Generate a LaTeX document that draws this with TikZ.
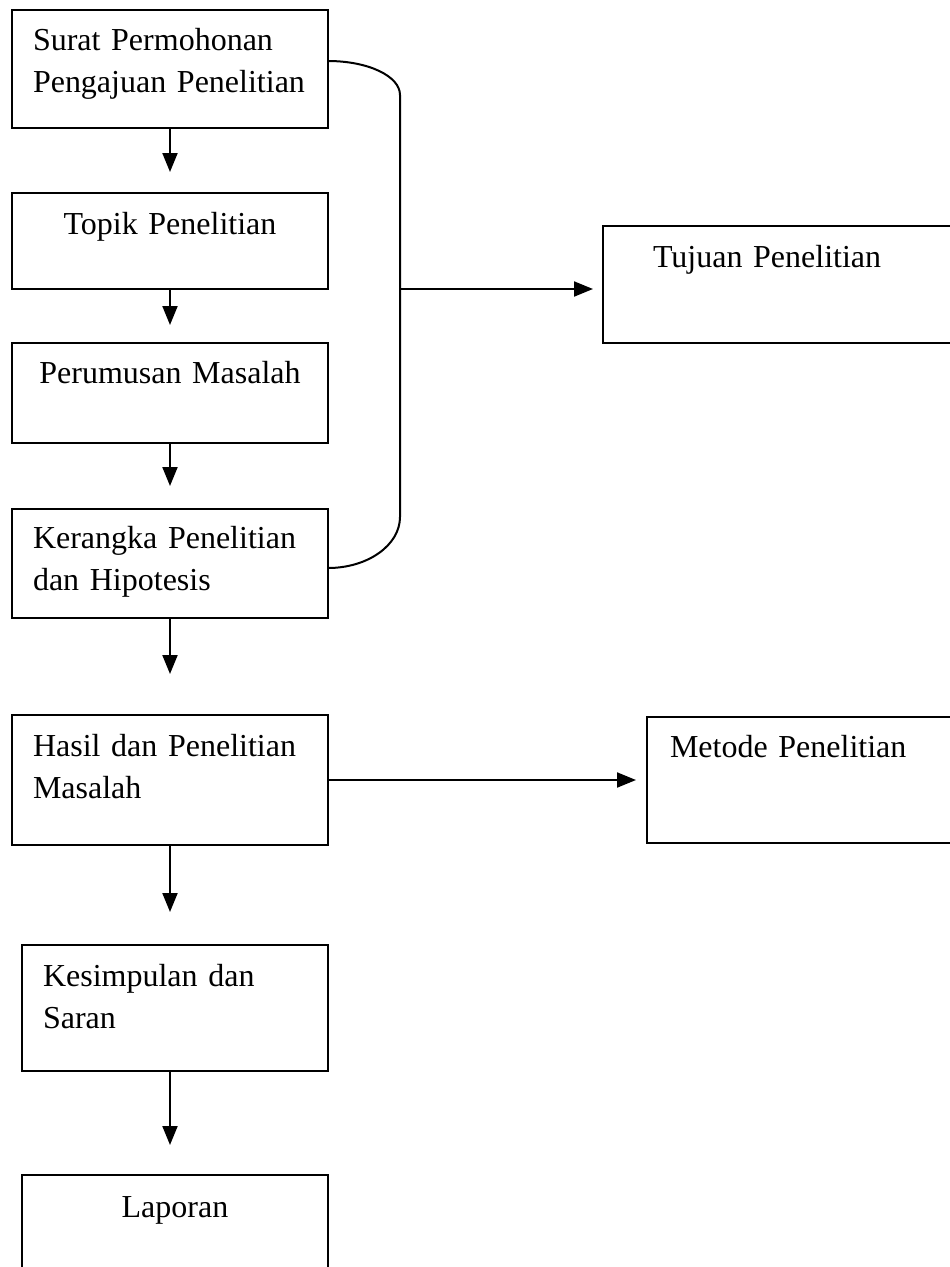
\documentclass[tikz,border=0pt]{standalone}
\usepackage{fontspec}
\setmainfont{Liberation Serif}
\usepackage{tikz}
\usetikzlibrary{positioning, arrows.meta}

\tikzset{
	kotak/.style = {draw, rectangle, line width=2pt, inner ysep=0pt, outer sep=0pt, font=\fontsize{32}{42}\selectfont},
	panah/.style = {-{Triangle[length=19pt, width=15pt]}, line width=2pt},
}

\begin{document}
\begin{tikzpicture}[x=1pt, y=-1pt]
	\useasboundingbox (0,0) rectangle (950,1267);

	\node[kotak, anchor=north west, align=left, text width=274pt, inner xsep=21pt, text height=40pt, text depth=78pt] (surat) at (12,10) {Surat Permohonan\\Pengajuan Penelitian};

	\node[kotak, below=65pt of surat, align=center, text width=274pt, inner xsep=21pt, text height=41pt, text depth=55pt] (topik) {Topik Penelitian};

	\node[kotak, below=54pt of topik, align=center, text width=274pt, inner xsep=21pt, text height=40pt, text depth=60pt] (rumusan) {Perumusan Masalah};

	\node[kotak, below=66pt of rumusan, align=left, text width=274pt, inner xsep=21pt, text height=39pt, text depth=70pt] (kerangka) {Kerangka Penelitian\\dan Hipotesis};

	\node[kotak, below=97pt of kerangka, align=left, text width=274pt, inner xsep=21pt, text height=41pt, text depth=89pt] (hasil) {Hasil dan Penelitian\\Masalah};

	\node[kotak, below=100pt of hasil, xshift=5pt, align=left, text width=264pt, inner xsep=21pt, text height=41pt, text depth=85pt] (kesimpulan) {Kesimpulan dan\\Saran};

	\node[kotak, below=104pt of kesimpulan, align=center, text width=264pt, inner xsep=21pt, text height=42pt, text depth=63pt] (laporan) {Laporan};

	\node[kotak, anchor=north west, align=left, text width=267pt, inner xsep=50pt, text height=41pt, text depth=76pt] (tujuan) at (603,226) {Tujuan Penelitian};

	\node[kotak, anchor=north west, align=left, text width=277pt, inner xsep=23pt, text height=40pt, text depth=86pt] (metode) at (647,717) {Metode Penelitian};

	\coordinate (garis) at (400,289);

	\draw[panah, shorten >=21pt] (surat) -- (topik);
	\draw[panah, shorten >=18pt] (topik) -- (rumusan);
	\draw[panah, shorten >=23pt] (rumusan) -- (kerangka);
	\draw[panah, shorten >=41pt] (kerangka) -- (hasil);
	\draw[panah, shorten >=33pt] (hasil) -- (hasil |- kesimpulan.north);
	\draw[panah, shorten >=30pt] (kesimpulan.south -| hasil.south) -- (hasil |- laporan.north);

	% kurung dari surat sampai kerangka
	\draw[line width=2pt] ([yshift=8pt]surat.east) .. controls +(40,0) and +(0,-19) .. (400,95) -- (400,517) .. controls +(0,28) and +(40,0) .. ([yshift=-4.5pt]kerangka.east);

	\draw[panah, shorten >=10pt] (garis) -- (garis -| tujuan.west);
	\draw[panah, shorten >=11pt] (hasil) -- (hasil -| metode.west);
\end{tikzpicture}
\end{document}
